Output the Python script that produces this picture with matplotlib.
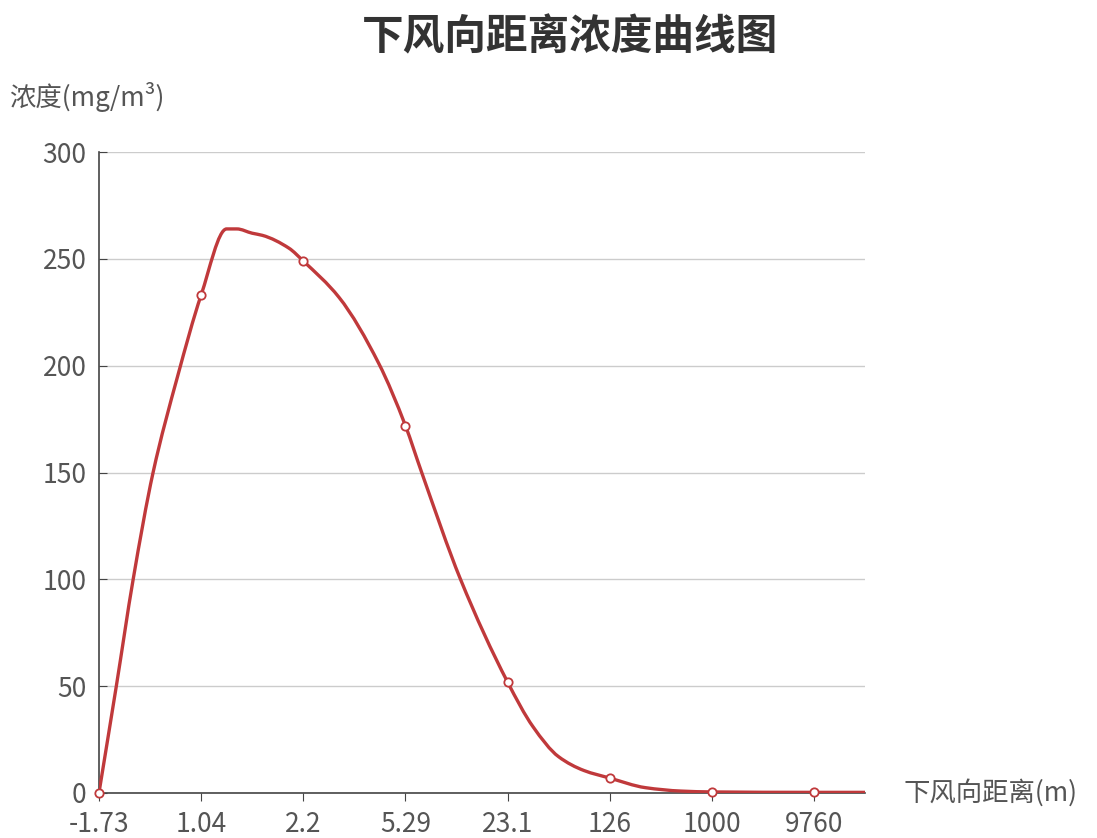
import matplotlib
matplotlib.use("Agg")
import matplotlib.pyplot as plt
from matplotlib.path import Path
from matplotlib.patches import PathPatch

plt.rcParams['font.family'] = ['Noto Sans CJK SC', 'DejaVu Sans']

# category labels on the x axis (equal spacing)
distance_labels = ['-1.73', '1.04', '2.2', '5.29', '23.1', '126', '1000', '9760']
# marked points: concentration at each labelled distance
marked_conc = [0, 233, 249, 172, 52, 7, 0.5, 0.3]

# the drawn curve (position in category units, value)
curve_pos = [0, 0.17, 0.335, 0.53, 0.77, 1.0, 1.25, 1.35, 1.5, 1.6, 1.86, 2.0,
             2.35, 2.74, 3.0, 3.16, 3.54, 4.0, 4.25, 4.5, 4.75, 5.0,
             5.35, 5.7, 6.0, 7.0, 7.5]
curve_conc = [0, 50, 100, 150, 195, 233, 264, 264, 262, 261, 255, 249,
              232, 201, 172, 150, 100, 52, 31, 17, 10.5, 7,
              2.5, 0.9, 0.5, 0.3, 0.3]

red = '#c0393b'
grey = '#555555'


def smooth_path(xs, ys):
    # monotone cubic (Fritsch-Carlson slopes) through the points, as bezier segments
    n = len(xs)
    h = [xs[i + 1] - xs[i] for i in range(n - 1)]
    d = [(ys[i + 1] - ys[i]) / h[i] for i in range(n - 1)]
    m = [d[0]] + [0.0] * (n - 2) + [d[-1]]
    for k in range(1, n - 1):
        if d[k - 1] * d[k] > 0:
            w1 = 2 * h[k] + h[k - 1]
            w2 = h[k] + 2 * h[k - 1]
            m[k] = (w1 + w2) / (w1 / d[k - 1] + w2 / d[k])
    verts = [(xs[0], ys[0])]
    codes = [Path.MOVETO]
    for i in range(n - 1):
        t = h[i] / 3
        verts += [(xs[i] + t, ys[i] + m[i] * t),
                  (xs[i + 1] - t, ys[i + 1] - m[i + 1] * t),
                  (xs[i + 1], ys[i + 1])]
        codes += [Path.CURVE4] * 3
    return Path(verts, codes)


fig = plt.figure(figsize=(10.97, 8.38), dpi=100)
ax = fig.add_axes([0.0902, 0.0537, 0.6983, 0.7649])

ax.add_patch(PathPatch(smooth_path(curve_pos, curve_conc), fill=False,
                       edgecolor=red, lw=2.4, capstyle='round', joinstyle='round',
                       zorder=3))
ax.plot(range(len(distance_labels)), marked_conc, ls='none', marker='o', ms=6,
        mfc='white', mec=red, mew=1.3, zorder=4, clip_on=False)

ax.set_xlim(0, 7.5)
ax.set_ylim(0, 300)
ax.set_xticks(range(len(distance_labels)))
ax.set_xticklabels(distance_labels)
ax.set_yticks([0, 50, 100, 150, 200, 250, 300])
ax.grid(axis='y', color='#cccccc', lw=1)
ax.set_axisbelow(True)

for s in ['top', 'right']:
    ax.spines[s].set_visible(False)
for s in ['left', 'bottom']:
    ax.spines[s].set_color('#444444')
    ax.spines[s].set_linewidth(1.2)

ax.tick_params(axis='y', direction='in', length=6, color='#444444', labelsize=19,
               labelcolor=grey, pad=9)
ax.tick_params(axis='x', direction='out', length=6, color='#444444', labelsize=19,
               labelcolor=grey, pad=7)

fig.text(0.52, 0.955, '下风向距离浓度曲线图', ha='center', va='center',
         fontsize=30, fontweight='bold', color='#333333')
fig.text(0.008, 0.884, '浓度(mg/m³)', ha='left', va='center', fontsize=19, color=grey)
fig.text(0.824, 0.054, '下风向距离(m)', ha='left', va='center', fontsize=19, color=grey)

fig.savefig('out.png', dpi=100, facecolor='white')
